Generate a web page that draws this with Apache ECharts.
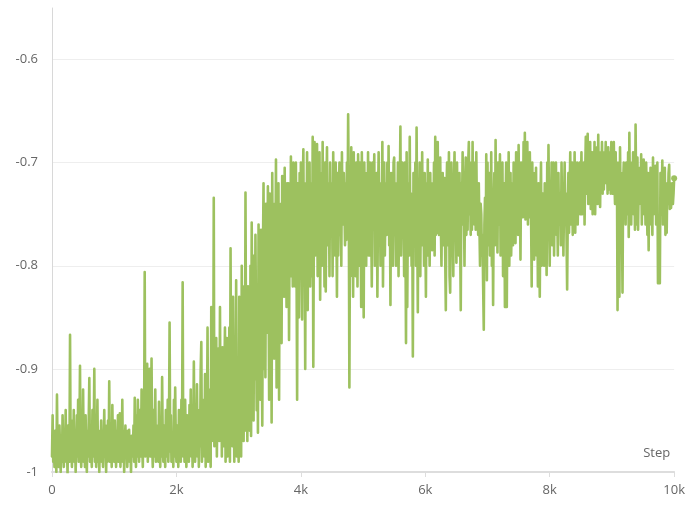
<!DOCTYPE html>
<html>
<head>
<meta charset="utf-8">
<script src="https://cdn.jsdelivr.net/npm/echarts@6/dist/echarts.min.js"></script>
<style>html,body{margin:0;padding:0;background:#fff}#c{width:688px;height:508px}</style>
</head>
<body>
<div id="c"></div>
<script>
// Logged every 10 steps, 0 .. 10000
const stepSpacing = 10;
const xTickLabels = ['0', '2k', '4k', '6k', '8k', '10k'];
const yTickLabels = ['-1', '-0.9', '-0.8', '-0.7', '-0.6'];
const values = [
  -.985,-.945,-.99,-.975,-.995,-.96,-.98,-1.0,-.925,-.985,
  -.97,-.995,-.955,-.98,-1.0,-.965,-.99,-.945,-.975,-.995,
  -.96,-.985,-.94,-.99,-.975,-1.002,-.955,-.98,-.99,-.867,
  -.985,-.95,-.995,-.97,-.985,-.94,-.99,-.96,-1.0,-.975,
  -.945,-.985,-.93,-.99,-.965,-.897,-.98,-.995,-.95,-.985,
  -.92,-.99,-.97,-.995,-.945,-.98,-1.0,-.96,-.985,-.95,
  -.909,-.99,-.965,-.98,-.995,-.94,-.985,-.97,-.9,-.99,
  -.955,-.995,-.975,-.93,-.99,-.96,-1.0,-.97,-.985,-.95,
  -.99,-.96,-.995,-.975,-.94,-.985,-.955,-1.0,-.97,-.99,
  -.95,-.985,-.912,-.99,-.965,-.975,-.995,-.935,-.98,-.96,
  -.99,-.95,-.975,-.995,-.96,-.985,-.945,-.99,-.97,-.943,
  -.995,-.965,-.98,-.93,-.99,-.96,-1.0,-.975,-.955,-.985,
  -.97,-.995,-.96,-.985,-.959,-.99,-.975,-1.0,-.965,-.985,
  -.98,-.955,-.99,-.928,-.975,-.995,-.945,-.985,-.93,-.97,
  -.99,-.94,-.965,-.985,-.92,-.975,-.995,-.93,-.96,-.806,
  -.985,-.93,-.96,-.895,-.99,-.945,-.97,-.9,-.985,-.955,
  -.89,-.975,-.995,-.94,-.965,-.985,-.92,-.99,-.955,-.975,
  -.96,-.99,-.932,-.975,-.995,-.95,-.985,-.908,-.97,-.99,
  -.955,-.98,-.995,-.94,-.97,-.985,-.93,-.99,-.96,-.855,
  -.98,-.945,-.99,-.965,-.975,-.995,-.93,-.985,-.918,-.97,
  -.99,-.955,-.975,-.995,-.94,-.985,-.96,-.99,-.93,-.97,
  -.816,-.985,-.95,-.99,-.93,-.97,-.995,-.945,-.98,-.96,
  -.99,-.935,-.975,-.92,-.985,-.955,-.995,-.965,-.893,-.98,
  -.99,-.95,-.97,-.915,-.985,-.94,-.995,-.96,-.975,-.9,
  -.874,-.99,-.955,-.97,-.93,-.985,-.905,-.995,-.95,-.97,
  -.86,-.99,-.94,-.975,-.92,-.995,-.84,-.97,-.93,-.96,
  -.734,-.975,-.9,-.96,-.87,-.985,-.92,-.95,-.88,-.97,
  -.84,-.96,-.9,-.985,-.879,-.94,-.975,-.91,-.86,-.99,
  -.93,-.87,-.985,-.9,-.955,-.86,-.99,-.783,-.94,-.88,
  -.975,-.83,-.92,-.99,-.87,-.95,-.814,-.985,-.9,-.94,
  -.99,-.83,-.92,-.86,-.985,-.8,-.95,-.88,-.97,-.82,
  -.96,-.729,-.9,-.85,-.97,-.82,-.93,-.87,-.96,-.8,
  -.965,-.758,-.88,-.83,-.95,-.79,-.91,-.77,-.86,-.94,
  -.82,-.962,-.76,-.87,-.8,-.93,-.765,-.85,-.955,-.79,
  -.72,-.9,-.78,-.908,-.74,-.83,-.865,-.723,-.8,-.93,
  -.73,-.84,-.76,-.952,-.71,-.82,-.77,-.89,-.74,-.8,
  -.697,-.918,-.76,-.8,-.72,-.93,-.75,-.82,-.74,-.875,
  -.713,-.79,-.75,-.83,-.705,-.8,-.76,-.84,-.72,-.78,
  -.72,-.872,-.75,-.79,-.694,-.81,-.74,-.82,-.7,-.78,
  -.76,-.82,-.7,-.79,-.93,-.72,-.77,-.85,-.71,-.8,
  -.7,-.78,-.852,-.73,-.687,-.8,-.75,-.9,-.72,-.79,
  -.69,-.843,-.74,-.78,-.7,-.82,-.76,-.72,-.81,-.675,
  -.898,-.75,-.68,-.79,-.74,-.77,-.682,-.81,-.73,-.76,
  -.69,-.833,-.75,-.71,-.8,-.68,-.77,-.74,-.82,-.7,
  -.825,-.73,-.685,-.78,-.75,-.72,-.81,-.7,-.77,-.74,
  -.72,-.81,-.69,-.76,-.73,-.79,-.7,-.75,-.83,-.71,
  -.79,-.74,-.7,-.77,-.72,-.8,-.69,-.76,-.74,-.71,
  -.74,-.78,-.72,-.775,-.7,-.76,-.653,-.73,-.918,-.75,
  -.81,-.685,-.77,-.74,-.83,-.69,-.76,-.72,-.81,-.7,
  -.74,-.82,-.692,-.76,-.8,-.7,-.75,-.84,-.69,-.76,
  -.73,-.85,-.7,-.77,-.74,-.8,-.71,-.76,-.69,-.79,
  -.74,-.7,-.79,-.75,-.82,-.7,-.76,-.73,-.692,-.8,
  -.72,-.76,-.71,-.83,-.74,-.69,-.77,-.73,-.8,-.72,
  -.75,-.68,-.82,-.73,-.7,-.79,-.74,-.72,-.77,-.7,
  -.76,-.684,-.78,-.73,-.838,-.71,-.77,-.75,-.8,-.7,
  -.695,-.77,-.74,-.8,-.72,-.76,-.7,-.81,-.74,-.73,
  -.665,-.79,-.74,-.7,-.77,-.73,-.81,-.7,-.76,-.875,
  -.69,-.84,-.75,-.72,-.79,-.675,-.78,-.73,-.8,-.74,
  -.888,-.71,-.78,-.74,-.7,-.8,-.666,-.76,-.845,-.72,
  -.75,-.7,-.81,-.73,-.77,-.69,-.78,-.74,-.8,-.71,
  -.76,-.83,-.72,-.78,-.697,-.79,-.74,-.8,-.71,-.77,
  -.73,-.785,-.72,-.76,-.7,-.79,-.675,-.77,-.74,-.768,
  -.68,-.75,-.77,-.72,-.695,-.76,-.8,-.73,-.71,-.78,
  -.74,-.715,-.79,-.843,-.73,-.7,-.78,-.75,-.69,-.81,
  -.826,-.74,-.7,-.78,-.76,-.81,-.72,-.69,-.77,-.75,
  -.797,-.7,-.76,-.74,-.79,-.71,-.77,-.843,-.72,-.75,
  -.69,-.76,-.73,-.8,-.72,-.695,-.77,-.74,-.765,-.7,
  -.68,-.75,-.72,-.77,-.7,-.765,-.68,-.74,-.73,-.76,
  -.7,-.765,-.69,-.75,-.73,-.77,-.72,-.76,-.8,-.74,
  -.75,-.79,-.77,-.82,-.862,-.76,-.734,-.8,-.692,-.814,
  -.7,-.78,-.74,-.71,-.79,-.76,-.69,-.8,-.73,-.838,
  -.74,-.71,-.78,-.678,-.77,-.73,-.787,-.7,-.76,-.74,
  -.692,-.79,-.73,-.76,-.7,-.81,-.75,-.72,-.84,-.74,
  -.7,-.84,-.73,-.77,-.69,-.8,-.75,-.71,-.79,-.76,
  -.72,-.78,-.7,-.76,-.74,-.778,-.69,-.75,-.72,-.77,
  -.683,-.76,-.73,-.794,-.7,-.75,-.72,-.753,-.68,-.74,
  -.671,-.755,-.72,-.74,-.68,-.76,-.7,-.753,-.69,-.73,
  -.75,-.82,-.7,-.78,-.74,-.794,-.71,-.76,-.705,-.79,
  -.73,-.82,-.72,-.76,-.83,-.74,-.7,-.8,-.75,-.73,
  -.76,-.8,-.72,-.78,-.74,-.809,-.7,-.77,-.683,-.75,
  -.8,-.72,-.76,-.7,-.78,-.74,-.7,-.79,-.73,-.76,
  -.7,-.77,-.74,-.79,-.71,-.76,-.75,-.73,-.78,-.7,
  -.76,-.72,-.79,-.74,-.7,-.75,-.73,-.77,-.823,-.75,
  -.71,-.768,-.73,-.69,-.76,-.74,-.7,-.77,-.72,-.75,
  -.69,-.768,-.73,-.75,-.7,-.76,-.72,-.74,-.7,-.75,
  -.73,-.69,-.75,-.72,-.74,-.7,-.76,-.71,-.675,-.73,
  -.72,-.672,-.74,-.7,-.73,-.68,-.745,-.71,-.69,-.75,
  -.7,-.73,-.68,-.75,-.71,-.72,-.685,-.74,-.673,-.73,
  -.7,-.743,-.69,-.72,-.68,-.73,-.7,-.726,-.69,-.71,
  -.68,-.72,-.7,-.73,-.685,-.726,-.71,-.69,-.73,-.68,
  -.71,-.73,-.7,-.68,-.72,-.74,-.69,-.73,-.7,-.843,
  -.72,-.7,-.83,-.685,-.74,-.71,-.75,-.826,-.72,-.7,
  -.74,-.72,-.76,-.7,-.73,-.75,-.69,-.772,-.671,-.74,
  -.72,-.76,-.7,-.74,-.69,-.75,-.71,-.765,-.663,-.73,
  -.76,-.695,-.765,-.72,-.74,-.705,-.73,-.692,-.76,-.71,
  -.74,-.697,-.75,-.72,-.76,-.7,-.73,-.77,-.71,-.785,
  -.72,-.76,-.705,-.74,-.73,-.77,-.695,-.75,-.72,-.74,
  -.703,-.76,-.73,-.7,-.817,-.817,-.8,-.817,-.71,-.75,
  -.73,-.698,-.76,-.72,-.74,-.705,-.77,-.73,-.768,-.72,
  -.74,-.71,-.702,-.745,-.72,-.744,-.73,-.72,-.74,-.73,
  -.715
];
const steps = values.map((_, i) => i * stepSpacing);

const seriesData = values.map((v, i) => {
  if (i === values.length - 1) {
    return { value: [steps[i], v], symbol: 'circle', symbolSize: 6 };
  }
  return [steps[i], v];
});

const chart = echarts.init(document.getElementById('c'), null, { renderer: 'canvas' });
const fontFamily = '"Open Sans", "Noto Sans", sans-serif';
chart.setOption({
  animation: false,
  backgroundColor: '#ffffff',
  grid: { left: 52, right: 12, top: 8, bottom: 36, containLabel: false },
  xAxis: {
    type: 'value',
    min: 0,
    max: 10000,
    interval: 2000,
    name: 'Step',
    nameLocation: 'end',
    nameGap: -4,
    nameTextStyle: {
      color: '#666', fontSize: 13, fontFamily: fontFamily,
      align: 'right', verticalAlign: 'bottom', padding: [0, 0, 12, 0]
    },
    axisLine: { show: true, lineStyle: { color: '#dddddd', width: 2 } },
    axisTick: { show: true, length: 5, lineStyle: { color: '#dddddd' } },
    splitLine: { show: false },
    axisLabel: {
      color: '#666', fontSize: 13, fontFamily: fontFamily, margin: 12,
      formatter: function (v) { return xTickLabels[Math.round(v / 2000)] || ''; }
    }
  },
  yAxis: {
    type: 'value',
    min: -1,
    max: -0.55,
    interval: 0.1,
    axisLine: { show: true, lineStyle: { color: '#d8d8d8', width: 1 } },
    axisTick: { show: false },
    splitLine: { show: true, showMaxLine: false, lineStyle: { color: '#eeeeee', width: 1 } },
    axisLabel: {
      color: '#666', fontSize: 13, fontFamily: fontFamily, margin: 14,
      showMaxLabel: false,
      formatter: function (v) {
        const idx = Math.round((v + 1) / 0.1);
        return yTickLabels[idx] || '';
      }
    }
  },
  series: [{
    type: 'line',
    data: seriesData,
    symbol: 'none',
    showSymbol: true,
    sampling: null,
    lineStyle: { color: '#9dc15f', width: 2.6, cap: 'round', join: 'round' },
    itemStyle: { color: '#9dc15f' },
    emphasis: { disabled: true },
    z: 3
  }]
});
</script>
</body>
</html>
